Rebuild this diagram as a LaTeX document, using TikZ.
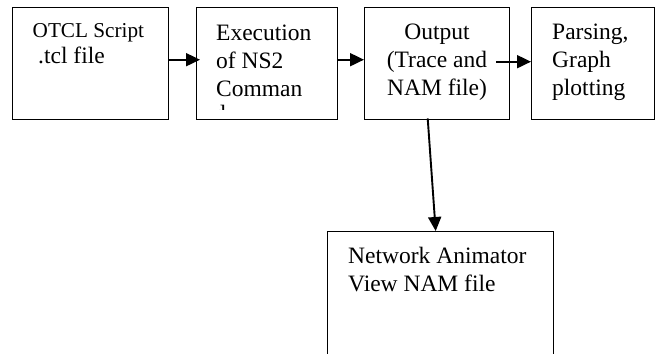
\documentclass[tikz,border=0pt]{standalone}
\usepackage{fontspec}
\setmainfont{Liberation Serif}
\usetikzlibrary{arrows.meta}
\begin{document}
\begin{tikzpicture}[x=1pt,y=-1pt,
  box/.style={draw,line width=1.4pt,inner sep=0pt,anchor=north west},
  arr/.style={line width=1.9pt,-{Triangle[length=14pt,width=13pt]}},
  bigtxt/.style={inner sep=0pt,font=\fontsize{23.5}{27.7}\selectfont},
  smalltxt/.style={inner sep=0pt,font=\fontsize{21.2}{26}\selectfont}]
\clip (0,0) rectangle (655,353);
\fill[white] (0,0) rectangle (655,353);
% boxes
\node[box,minimum width=156pt,minimum height=112pt] (b1) at (12,7) {};
\node[box,minimum width=141pt,minimum height=112pt] (b2) at (196,7) {};
\node[box,minimum width=145pt,minimum height=112pt] (b3) at (364,7) {};
\node[box,minimum width=123pt,minimum height=112pt] (b4) at (531,7) {};
\node[box,minimum width=226pt,minimum height=150pt] (b5) at (327,231) {};
% texts
\node[smalltxt,anchor=base west] (t1) at (32.5,37.7)
  {\begin{tabular}[t]{@{}l@{}}OTCL Script\\\hspace{5.5pt}{\fontsize{23.5}{27.7}\selectfont .tcl file}\end{tabular}};
\node[bigtxt,anchor=base west] (t2) at (216,40.7)
  {\begin{tabular}[t]{@{}l@{}}Execution\\of NS2\\Comman\end{tabular}};
\begin{scope}
  \clip (196,100) rectangle (337,109.5);
  \node[bigtxt,anchor=base west] (t2d) at (214,121) {d};
\end{scope}
\node[bigtxt,anchor=base] (t3) at (437,40)
  {\begin{tabular}[t]{@{}c@{}}Output\\(Trace and\\NAM file)\end{tabular}};
\node[bigtxt,anchor=base west] (t4) at (552,40)
  {\begin{tabular}[t]{@{}l@{}}Parsing,\\Graph\\plotting\end{tabular}};
\node[bigtxt,anchor=base west] (t5) at (348,263.3)
  {\begin{tabular}[t]{@{}l@{}}Network Animator\\View NAM file\end{tabular}};
% arrows
\draw[arr] ([yshift=4pt]b1.east) -- ([xshift=4pt,yshift=4pt]b2.west);
\draw[arr] ([yshift=4pt]b2.east) -- ([yshift=4pt]b3.west);
\draw[arr] ([xshift=-14pt,yshift=2pt]b3.east) -- ([yshift=2pt]b4.west);
\draw[arr] ([xshift=-9.5pt,yshift=2pt]b3.south) -- ([xshift=-5pt]b5.north);
\end{tikzpicture}
\end{document}
